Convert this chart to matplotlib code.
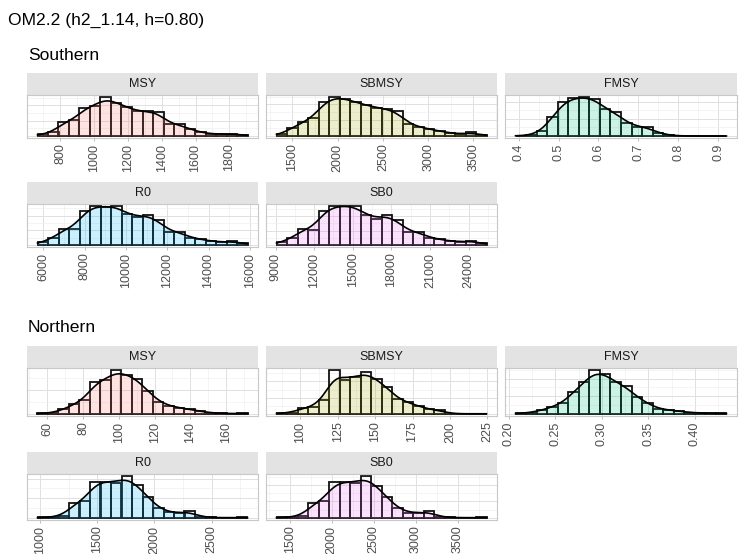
import numpy as np
import matplotlib
matplotlib.use("Agg")
import matplotlib.pyplot as plt
from matplotlib.ticker import FixedLocator, MaxNLocator, AutoMinorLocator

plt.rcParams['font.family'] = ['Liberation Sans', 'DejaVu Sans']

W, H = 739, 554

params = ["MSY", "SBMSY", "FMSY", "R0", "SB0"]
fill_colors = ["#F8766D", "#A3A500", "#00BF7D", "#00B0F6", "#E76BF3"]

# ---- Southern stock: histogram range (first/last bin edge) and counts, 20 bins ----
south_msy_range = (667, 1907)
south_msy_counts = [4, 10, 36, 41, 73, 78, 100, 85, 74, 63, 63, 62, 30, 30, 17, 10, 5, 5, 6, 3]
south_msy_ticks = [800, 1000, 1200, 1400, 1600, 1800]
south_msy_labels = ["800", "1000", "1200", "1400", "1600", "1800"]

south_sbmsy_range = (1325, 3645)
south_sbmsy_counts = [5, 21, 35, 46, 87, 100, 96, 87, 79, 73, 69, 63, 31, 24, 18, 13, 8, 4, 10, 3]
south_sbmsy_ticks = [1500, 2000, 2500, 3000, 3500]
south_sbmsy_labels = ["1500", "2000", "2500", "3000", "3500"]

south_fmsy_range = (0.392, 0.921)
south_fmsy_counts = [1, 2, 12, 48, 87, 97, 100, 96, 69, 61, 34, 24, 23, 8, 2, 0.5, 0, 0, 0, 0.3]
south_fmsy_ticks = [0.4, 0.5, 0.6, 0.7, 0.8, 0.9]
south_fmsy_labels = ["0.4", "0.5", "0.6", "0.7", "0.8", "0.9"]

south_r0_range = (5710, 15890)
south_r0_counts = [8, 17, 42, 42, 88, 100, 98, 100, 80, 72, 77, 63, 34, 34, 19, 15, 10, 7, 10, 5]
south_r0_ticks = [6000, 8000, 10000, 12000, 14000, 16000]
south_r0_labels = ["6000", "8000", "10000", "12000", "14000", "16000"]

south_sb0_range = (9077, 25377)
south_sb0_counts = [8, 17, 42, 39, 88, 99, 100, 100, 77, 67, 77, 63, 34, 34, 19, 15, 10, 8, 11, 5]
south_sb0_ticks = [9000, 12000, 15000, 18000, 21000, 24000]
south_sb0_labels = ["9000", "12000", "15000", "18000", "21000", "24000"]

# ---- Northern stock ----
north_msy_range = (54.5, 172.0)
north_msy_counts = [1, 2, 10, 22, 32, 74, 78, 100, 90, 80, 52, 28, 18, 14, 10, 6, 2, 1, 0.5, 1]
north_msy_ticks = [60, 80, 100, 120, 140, 160]
north_msy_labels = ["60", "80", "100", "120", "140", "160"]

north_sbmsy_range = (84.0, 224.5)
north_sbmsy_counts = [1, 3, 13, 16, 32, 100, 77, 85, 96, 80, 61, 34, 26, 18, 10, 8, 0.5, 0, 0, 0.3]
north_sbmsy_ticks = [100, 125, 150, 175, 200, 225]
north_sbmsy_labels = ["100", "125", "150", "175", "200", "225"]

north_fmsy_range = (0.2072, 0.4339)
north_fmsy_counts = [1, 3, 8, 16, 24, 50, 72, 100, 91, 72, 63, 38, 24, 11, 9, 6, 3, 2, 1, 1]
north_fmsy_ticks = [0.20, 0.25, 0.30, 0.35, 0.40]
north_fmsy_labels = ["0.20", "0.25", "0.30", "0.35", "0.40"]

north_r0_range = (977, 2814)
north_r0_counts = [1, 2, 5, 35, 41, 87, 87, 84, 100, 78, 50, 23, 13, 12, 16, 2, 1, 0.5, 0.5, 1]
north_r0_ticks = [1000, 1500, 2000, 2500]
north_r0_labels = ["1000", "1500", "2000", "2500"]

north_sb0_range = (1343, 3841)
north_sb0_counts = [1, 2, 5, 35, 41, 86, 86, 83, 100, 77, 50, 23, 12, 12, 16, 2, 1, 0.5, 0.5, 1]
north_sb0_ticks = [1500, 2000, 2500, 3000, 3500]
north_sb0_labels = ["1500", "2000", "2500", "3000", "3500"]

south = [
    (south_msy_range, south_msy_counts, south_msy_ticks, south_msy_labels),
    (south_sbmsy_range, south_sbmsy_counts, south_sbmsy_ticks, south_sbmsy_labels),
    (south_fmsy_range, south_fmsy_counts, south_fmsy_ticks, south_fmsy_labels),
    (south_r0_range, south_r0_counts, south_r0_ticks, south_r0_labels),
    (south_sb0_range, south_sb0_counts, south_sb0_ticks, south_sb0_labels),
]
north = [
    (north_msy_range, north_msy_counts, north_msy_ticks, north_msy_labels),
    (north_sbmsy_range, north_sbmsy_counts, north_sbmsy_ticks, north_sbmsy_labels),
    (north_fmsy_range, north_fmsy_counts, north_fmsy_ticks, north_fmsy_labels),
    (north_r0_range, north_r0_counts, north_r0_ticks, north_r0_labels),
    (north_sb0_range, north_sb0_counts, north_sb0_ticks, north_sb0_labels),
]

# facet grid geometry in pixels
col_x = [(27, 258), (266, 497), (505, 737)]
south_rows = [(73, 95, 138), (182, 204, 247)]
north_rows = [(346, 368, 416), (452, 474, 520)]

fig = plt.figure(figsize=(W / 100, H / 100), dpi=100)


def box(x0, y0, x1, y1):
    return [x0 / W, 1 - y1 / H, (x1 - x0) / W, (y1 - y0) / H]


def kde(centers, weights, bw, xs):
    w = np.asarray(weights, float)
    d = np.exp(-0.5 * ((xs[:, None] - centers[None, :]) / bw) ** 2) / (bw * np.sqrt(2 * np.pi))
    return (d * w[None, :]).sum(axis=1) / w.sum()


def draw_panel(name, color, spec, px, rows):
    (lo, hi), counts, ticks, labels = spec
    x0, x1 = px
    ys0, ys1, yp1 = rows
    # strip
    sax = fig.add_axes(box(x0, ys0, x1, ys1))
    sax.set_facecolor("#E3E3E3")
    sax.set_xticks([]); sax.set_yticks([])
    for s in sax.spines.values():
        s.set_visible(False)
    sax.text(0.5, 0.5, name, ha="center", va="center", fontsize=9, color="#1A1A1A",
             transform=sax.transAxes)

    ax = fig.add_axes(box(x0, ys1, x1, yp1))
    n = len(counts)
    edges = np.linspace(lo, hi, n + 1)
    bw = edges[1] - edges[0]
    c = np.asarray(counts, float)
    dens = c / (c.sum() * bw)
    centers = 0.5 * (edges[:-1] + edges[1:])
    xs = np.linspace(lo, hi, 400)
    k = kde(centers, c, 0.85 * bw, xs)

    ax.bar(edges[:-1], dens, width=bw, align="edge", fill=False,
           edgecolor="#111111", linewidth=1.3, zorder=2)
    ax.fill_between(xs, k, 0, color=color, alpha=0.2, linewidth=0, zorder=3)
    ax.plot(xs, k, color="black", linewidth=1.2, zorder=4)

    ymax = max(dens.max(), k.max())
    ax.set_ylim(-0.05 * ymax, 1.05 * ymax)
    r = hi - lo
    ax.set_xlim(lo - 0.05 * r, hi + 0.05 * r)

    ax.xaxis.set_major_locator(FixedLocator(ticks))
    ax.set_xticklabels(labels)
    step = ticks[1] - ticks[0]
    minors = [t - step / 2 for t in ticks] + [ticks[-1] + step / 2]
    ax.xaxis.set_minor_locator(FixedLocator(minors))
    ax.yaxis.set_major_locator(MaxNLocator(3))
    ax.yaxis.set_minor_locator(AutoMinorLocator(2))
    ax.grid(which="major", color="#E0E0E0", linewidth=0.7, zorder=0)
    ax.grid(which="minor", color="#EEEEEE", linewidth=0.45, zorder=0)
    ax.set_axisbelow(True)
    ax.tick_params(axis="y", which="both", left=False, labelleft=False)
    ax.tick_params(axis="x", which="minor", bottom=False)
    ax.tick_params(axis="x", which="major", length=2, width=0.6, color="#B3B3B3",
                   labelrotation=90, labelsize=9, labelcolor="#4D4D4D", pad=2)
    for s in ax.spines.values():
        s.set_color("#C8C8C8")
        s.set_linewidth(0.8)


layout = [(0, 0), (0, 1), (0, 2), (1, 0), (1, 1)]
for i, name in enumerate(params):
    r, cidx = layout[i]
    draw_panel(name, fill_colors[i], south[i], col_x[cidx], south_rows[r])
    draw_panel(name, fill_colors[i], north[i], col_x[cidx], north_rows[r])

fig.text(8 / W, 1 - 20 / H, "OM2.2 (h2_1.14, h=0.80)", ha="left", va="center",
         fontsize=12.6, color="black")
fig.text(28 / W, 1 - 55 / H, "Southern", ha="left", va="center", fontsize=12.6, color="black")
fig.text(28 / W, 1 - 328 / H, "Northern", ha="left", va="center", fontsize=12.6, color="black")

fig.savefig("out.png", dpi=100, facecolor="white")
